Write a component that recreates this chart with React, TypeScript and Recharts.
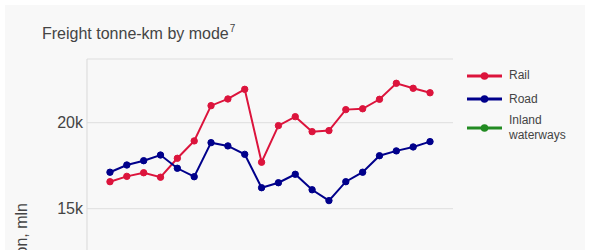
import { LineChart, Line, XAxis, YAxis, CartesianGrid, Legend } from "recharts"

const years = [
  1997, 1998, 1999, 2000, 2001, 2002, 2003, 2004, 2005, 2006,
  2007, 2008, 2009, 2010, 2011, 2012, 2013, 2014, 2015, 2016,
]
const rail = [
  16570, 16880, 17090, 16830, 17930, 18940, 20990, 21380, 21940, 17700,
  19830, 20350, 19480, 19540, 20760, 20810, 21360, 22290, 22000, 21740,
]
const road = [
  17120, 17540, 17790, 18120, 17350, 16860, 18840, 18650, 18160, 16220,
  16510, 17000, 16100, 15470, 16570, 17120, 18080, 18360, 18590, 18900,
]
// not visible in the crop, it sits far below the other two
const inlandWaterways = [
  2300, 2250, 2500, 2700, 2400, 2600, 2200, 2550, 2750, 2900,
  2500, 2650, 2400, 2300, 2450, 2250, 2350, 2500, 2400, 2300,
]
const yTicks = [5000, 10000, 15000, 20000]
const xTicks = [2000, 2005, 2010, 2015]

const data = years.map((year, i) => ({
  year,
  rail: rail[i],
  road: road[i],
  inland: inlandWaterways[i],
}))

const series = [
  { key: "rail", name: "Rail", color: "#dc143c" },
  { key: "road", name: "Road", color: "#00008b" },
  { key: "inland", name: "Inland waterways", color: "#228b22" },
]

const font = "'Liberation Sans', Arial, sans-serif"
const textColor = "#444"

const renderLegend = (props: any) => {
  const payload = props.payload || []
  // keep the series order, not recharts' alphabetical one
  const items = series
    .map((s) => payload.find((p: any) => p.value === s.name))
    .filter(Boolean)
  return (
    <div style={{ fontFamily: font, fontSize: 12, color: textColor }}>
      {items.map((entry: any) => (
        <div key={entry.value} style={{ display: "flex", alignItems: "center", minHeight: 23.4 }}>
          <svg width={36} height={10} style={{ flex: "none" }}>
            <line x1={0} y1={5} x2={35} y2={5} stroke={entry.color} strokeWidth={3} />
            <circle cx={17.5} cy={5} r={3.8} fill={entry.color} />
          </svg>
          <span style={{ marginLeft: 6, width: 62, lineHeight: "15px", padding: "2px 0" }}>
            {entry.value}
          </span>
        </div>
      ))}
    </div>
  )
}

const renderYLabel = () => {
  const x = 21.5
  const y = 198
  return (
    <text
      x={x}
      y={y}
      transform={`rotate(-90, ${x}, ${y})`}
      textAnchor="end"
      fill={textColor}
      fontSize={16}
      fontFamily={font}
    >
      Freight transportation, mln
    </text>
  )
}

export default function App() {
  return (
    <div style={{ width: 590, height: 250, overflow: "hidden", background: "#fff", position: "relative" }}>
      <style>{"body{margin:0}"}</style>
      <div style={{ position: "absolute", left: 5, top: 5, width: 580, height: 500, background: "#f8f8f8" }}>
        <div
          style={{
            position: "absolute",
            left: 37,
            top: 19,
            fontFamily: font,
            fontSize: 16,
            lineHeight: "20px",
            color: textColor,
            whiteSpace: "nowrap",
            zIndex: 1,
          }}
        >
          Freight tonne-km by mode
          <span style={{ fontSize: 10, position: "relative", top: -7, marginLeft: 1 }}>7</span>
        </div>
        <LineChart
          width={580}
          height={500}
          data={data}
          margin={{ top: 54, right: 17, bottom: 22, left: 0 }}
        >
          <CartesianGrid vertical={false} stroke="#dedede" strokeWidth={1} />
          <XAxis
            dataKey="year"
            type="number"
            domain={[1995.636, 2017.364]}
            ticks={xTicks}
            allowDataOverflow
            axisLine={false}
            tickLine={false}
            height={30}
            tick={{ fill: textColor, fontSize: 16, fontFamily: font }}
          />
          <YAxis
            domain={[796, 23703]}
            ticks={yTicks}
            allowDataOverflow
            width={82}
            axisLine={{ stroke: "#d9d9d9" }}
            tickLine={false}
            tickSize={0}
            tickMargin={4}
            tickFormatter={(v: number) => `${v / 1000}k`}
            tick={{ fill: textColor, fontSize: 16, fontFamily: font }}
            label={{ content: renderYLabel }}
          />
          <Legend
            layout="vertical"
            align="right"
            verticalAlign="top"
            width={115}
            wrapperStyle={{ top: 59, left: 462, width: 115 }}
            content={renderLegend}
          />
          {series.map((s) => (
            <Line
              key={s.key}
              dataKey={s.key}
              name={s.name}
              type="linear"
              stroke={s.color}
              strokeWidth={2}
              dot={{ r: 3.2, fill: s.color, stroke: s.color, strokeWidth: 1 }}
              activeDot={false}
              isAnimationActive={false}
            />
          ))}
        </LineChart>
      </div>
    </div>
  )
}
